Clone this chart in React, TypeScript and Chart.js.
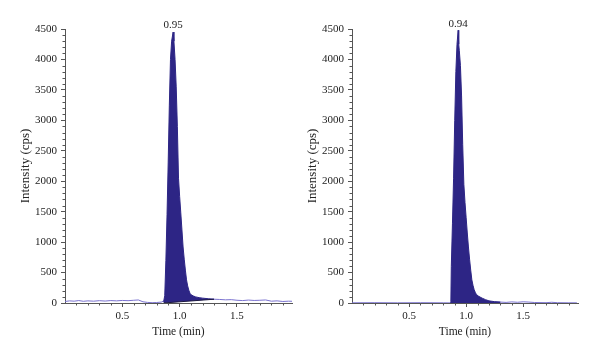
import React, { useEffect, useRef } from "react";
import { Chart, registerables } from "chart.js";

Chart.register(...registerables);

// ---------- data ----------
const xTickValues = [0.5, 1.0, 1.5];
const yTickValues = [0, 500, 1000, 1500, 2000, 2500, 3000, 3500, 4000, 4500];
const peakLabels = ["0.95", "0.94"];

const leftTraceTimes = [0, 0.04, 0.08, 0.12, 0.16, 0.2, 0.25, 0.3, 0.35, 0.4, 0.45, 0.5, 0.55, 0.6, 0.64, 0.68, 0.72, 0.76, 0.8, 0.84, 0.87, 1.3, 1.35, 1.4, 1.45, 1.5, 1.55, 1.6, 1.65, 1.7, 1.75, 1.8, 1.85, 1.9, 1.95, 1.98];
const leftTraceValues = [25, 35, 30, 40, 28, 35, 30, 38, 32, 40, 35, 42, 38, 45, 50, 20, 10, 5, 8, 15, 40, 62, 58, 52, 55, 45, 40, 48, 42, 45, 50, 30, 35, 25, 30, 28];

const leftPeakTimes = [0.86, 0.87, 0.88, 0.89, 0.9, 0.91, 0.92, 0.93, 0.943, 0.95, 0.96, 0.97, 0.98, 0.99, 1.0, 1.01, 1.02, 1.03, 1.04, 1.05, 1.06, 1.07, 1.08, 1.09, 1.1, 1.12, 1.14, 1.17, 1.2, 1.25, 1.3];
const leftPeakValues = [20, 120, 700, 1450, 2300, 3250, 4000, 4300, 4450, 4300, 4000, 3550, 2900, 2050, 1750, 1480, 1200, 920, 720, 540, 380, 280, 210, 160, 135, 115, 100, 88, 80, 70, 62];

const rightTraceTimes = [0, 0.2, 0.4, 0.6, 0.8, 0.86, 1.3, 1.35, 1.4, 1.45, 1.5, 1.55, 1.6, 1.7, 1.75, 1.8, 1.9, 1.97];
const rightTraceValues = [3, 5, 3, 5, 3, 2, 15, 10, 18, 12, 20, 15, 8, 5, 12, 5, 3, 3];

const rightPeakTimes = [0.862, 0.866, 0.87, 0.88, 0.89, 0.9, 0.91, 0.92, 0.93, 0.935, 0.94, 0.95, 0.96, 0.97, 0.98, 0.99, 1.0, 1.01, 1.02, 1.03, 1.04, 1.05, 1.06, 1.07, 1.08, 1.09, 1.11, 1.14, 1.17, 1.2, 1.25, 1.3];
const rightPeakValues = [0, 20, 600, 1300, 2050, 3000, 3800, 4250, 4480, 4250, 4150, 3900, 3400, 2600, 1950, 1650, 1400, 1150, 920, 720, 540, 380, 290, 220, 175, 140, 110, 80, 55, 35, 22, 15];

// ---------- styles ----------
const FONT = "'Liberation Serif', 'DejaVu Serif', serif";
const AXIS = "#555555";
const TEXT = "#222222";
const FILL = "#2d2585";
const TRACE = "#7a72cf";

type PanelProps = {
  traceT: number[];
  traceV: number[];
  peakT: number[];
  peakV: number[];
  label: string;
  axisX: number;
  padRight: number;
  streak: boolean;
};

function Panel(p: PanelProps) {
  const ref = useRef<HTMLCanvasElement | null>(null);
  useEffect(() => {
    const canvas = ref.current!;
    const tracePts = p.traceT.map((t, i) => ({ x: t, y: p.traceV[i] }));
    const peakPts = p.peakT.map((t, i) => ({ x: t, y: p.peakV[i] }));
    const last = p.peakT.length - 1;
    const basePts = [
      { x: p.peakT[0], y: 0 },
      { x: p.peakT[last], y: p.peakV[last] },
    ];
    let maxIdx = 0;
    p.peakV.forEach((v, i) => {
      if (v > p.peakV[maxIdx]) maxIdx = i;
    });

    const yTitleSize = 13;
    const xTitleSize = 11.5;

    const minorTicks = {
      id: "minorTicks",
      afterDraw(chart: any) {
        const c = chart.ctx;
        const xs = chart.scales.x;
        const ys = chart.scales.y;
        c.save();
        c.strokeStyle = AXIS;
        c.lineWidth = 1;
        c.beginPath();
        for (let i = 1; i < 45; i++) {
          if (i % 5 === 0) continue;
          const y = Math.round(ys.getPixelForValue(i * 100)) + 0.5;
          c.moveTo(ys.right - 2.5, y);
          c.lineTo(ys.right, y);
        }
        for (let i = 1; i < 20; i++) {
          if (i % 5 === 0) continue;
          const x = Math.round(xs.getPixelForValue(i / 10)) + 0.5;
          c.moveTo(x, xs.top);
          c.lineTo(x, xs.top + 2.5);
        }
        c.stroke();
        c.restore();
      },
    };

    const peakLabel = {
      id: "peakLabel",
      afterDatasetsDraw(chart: any) {
        const c = chart.ctx;
        const x = chart.scales.x.getPixelForValue(p.peakT[maxIdx]);
        const y = chart.scales.y.getPixelForValue(p.peakV[maxIdx]);
        c.save();
        c.font = `11px ${FONT}`;
        c.fillStyle = TEXT;
        c.textAlign = "center";
        c.textBaseline = "bottom";
        c.fillText(p.label, x, y - 1);
        c.restore();
      },
    };

    const datasets: any[] = [
      {
        data: peakPts,
        borderColor: FILL,
        backgroundColor: FILL,
        borderWidth: 1,
        fill: p.streak ? 2 : "origin",
        pointRadius: 0,
        tension: 0,
        order: 1,
      },
      {
        data: tracePts,
        borderColor: TRACE,
        borderWidth: 1,
        fill: false,
        pointRadius: 0,
        tension: 0,
        order: 2,
      },
    ];
    if (p.streak) {
      datasets.push({
        data: basePts,
        borderColor: "#1d1940",
        borderWidth: 1,
        fill: false,
        pointRadius: 0,
        tension: 0,
        order: 0,
      });
    }

    const chart = new Chart(canvas, {
      type: "line",
      data: { datasets },
      options: {
        responsive: false,
        animation: false,
        devicePixelRatio: 1,
        layout: { padding: { left: 0, right: p.padRight, top: 29, bottom: 0 } },
        plugins: {
          legend: { display: false },
          tooltip: { enabled: false },
          filler: { propagate: false },
        },
        scales: {
          x: {
            type: "linear",
            min: 0,
            max: 1.98,
            afterBuildTicks: (s: any) => {
              s.ticks = xTickValues.map((v) => ({ value: v }));
            },
            afterFit: (s: any) => {
              s.height = 358 - 303;
            },
            grid: {
              display: true,
              drawOnChartArea: false,
              drawTicks: true,
              tickLength: 4,
              tickColor: AXIS,
            },
            border: { display: true, color: AXIS, width: 1 },
            ticks: {
              font: { family: FONT, size: 11 },
              color: TEXT,
              padding: 3,
              maxRotation: 0,
              autoSkip: false,
              callback: (v: any) => Number(v).toFixed(1),
            },
            title: {
              display: true,
              text: "Time (min)",
              font: { family: FONT, size: xTitleSize },
              color: TEXT,
              padding: { top: 0, bottom: 26 - (xTitleSize * 1.2) / 2 },
            },
          },
          y: {
            min: 0,
            max: 4500,
            afterBuildTicks: (s: any) => {
              s.ticks = yTickValues.map((v) => ({ value: v }));
            },
            afterFit: (s: any) => {
              s.width = p.axisX;
            },
            grid: {
              display: true,
              drawOnChartArea: false,
              drawTicks: true,
              tickLength: 4,
              tickColor: AXIS,
            },
            border: { display: true, color: AXIS, width: 1 },
            ticks: {
              font: { family: FONT, size: 11 },
              color: TEXT,
              padding: 4,
              autoSkip: false,
              callback: (v: any) => String(v),
            },
            title: {
              display: true,
              text: "Intensity (cps)",
              font: { family: FONT, size: yTitleSize },
              color: TEXT,
              padding: { top: p.axisX - 39 - (yTitleSize * 1.2) / 2, bottom: 0 },
            },
          },
        },
      } as any,
      plugins: [minorTicks, peakLabel],
    });
    return () => chart.destroy();
  }, []);
  return (
    <canvas
      ref={ref}
      width={300}
      height={358}
      style={{ display: "block", width: 300, height: 358 }}
    />
  );
}

export default function App() {
  return (
    <div
      style={{
        position: "fixed",
        left: 0,
        top: 0,
        width: 600,
        height: 358,
        display: "flex",
        background: "#ffffff",
      }}
    >
      <Panel
        traceT={leftTraceTimes}
        traceV={leftTraceValues}
        peakT={leftPeakTimes}
        peakV={leftPeakValues}
        label={peakLabels[0]}
        axisX={65}
        padRight={8}
        streak={true}
      />
      <Panel
        traceT={rightTraceTimes}
        traceV={rightTraceValues}
        peakT={rightPeakTimes}
        peakV={rightPeakValues}
        label={peakLabels[1]}
        axisX={52}
        padRight={22}
        streak={false}
      />
    </div>
  );
}
